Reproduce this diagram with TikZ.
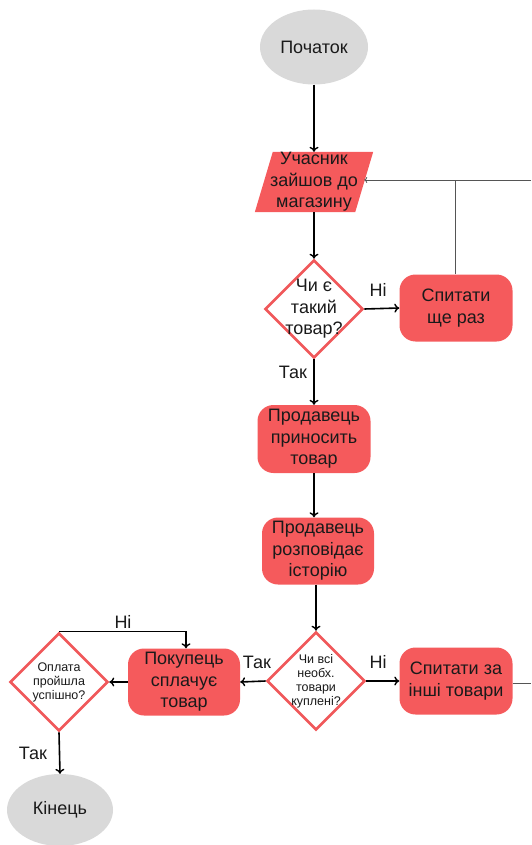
\documentclass[tikz,border=0pt]{standalone}
\usepackage{fontspec}
\setmainfont{Liberation Sans}
\usetikzlibrary{shapes.geometric,arrows.meta,backgrounds}
\definecolor{boxred}{HTML}{F55A5C}
\definecolor{edgered}{HTML}{F0585A}
\definecolor{termgray}{HTML}{D9D9D9}
\definecolor{txt}{HTML}{1A1A1A}
\definecolor{loopgray}{HTML}{555555}
\begin{document}
\begin{tikzpicture}[x=1pt,y=-1pt,
  every node/.style={font=\fontsize{18}{21.5}\selectfont, text=txt},
  term/.style={ellipse, fill=termgray, inner sep=0pt},
  proc/.style={rectangle, rounded corners=16pt, fill=boxred, minimum width=113pt, minimum height=67pt, align=center, inner sep=0pt},
  dec/.style={diamond, draw=edgered, line width=2.6pt, fill=white, minimum width=98pt, minimum height=98pt, inner sep=0pt},
  dectext/.style={align=center, inner sep=0pt},
  smalltext/.style={align=center, inner sep=0pt, font=\fontsize{12.5}{14}\selectfont},
  flow/.style={line width=1.6pt, -{To[length=5pt,width=9pt,line width=1.4pt]}},
  loop/.style={line width=0.8pt, draw=loopgray},
  loopar/.style={line width=0.8pt, draw=loopgray, -{To[length=3pt,width=6pt]}},
  lbl/.style={inner sep=0pt}
]
\useasboundingbox (0,0) rectangle (531,845);

% nodes
\node[term, minimum width=108pt, minimum height=75pt] (start) at (314,47) {Початок};
\node[rectangle, minimum width=100pt, minimum height=60pt, align=center, inner sep=0pt] (par) at (314,182) {Учасник\\зайшов до\\магазину};
\begin{scope}[on background layer]
  \fill[boxred] ([xshift=9pt]par.north west) -- ([xshift=9pt]par.north east) -- ([xshift=-9pt]par.south east) -- ([xshift=-9pt]par.south west) -- cycle;
\end{scope}

\node[dec] (d1) at (314,309) {};
\node[dectext] (d1t) at (d1.center) {Чи є\\такий\\товар?};

\node[proc] (b1) at (456,308) {Спитати\\ще раз};
\node[proc, minimum height=68pt] (b2) at (314,439) {Продавець\\приносить\\товар};
\node[proc, minimum width=112pt] (b3) at (318,551) {Продавець\\розповідає\\історію};

\node[dec] (d2) at (316,681) {};
\node[smalltext] (d2t) at (d2.center) {Чи всі\\необх.\\товари\\куплені?};

\node[proc] (b4) at (456,681) {Спитати за\\інші товари};
\node[proc, minimum width=112pt] (b5) at (184,682) {Покупець\\сплачує\\товар};

\node[dec] (d3) at (59,682) {};
\node[smalltext] (d3t) at (d3.center) {Оплата\\пройшла\\успішно?};

\node[term, minimum width=106pt, minimum height=72pt] (end) at (60,810) {Кінець};

% labels
\node[lbl] (l1) at (378,290) {Ні};
\node[lbl] (l2) at (293,372) {Так};
\node[lbl] (l3) at (378,662) {Ні};
\node[lbl] (l4) at (257,662) {Так};
\node[lbl] (l5) at (123,622) {Ні};
\node[lbl] (l6) at (33,753) {Так};

% loop coordinates at the right edge
\coordinate (topR) at (531,180);
\coordinate (botR) at (531,683);

% connectors
\draw[flow] (start.south) -- (par.north);
\draw[flow] (par.south) -- (d1.north);
\draw[flow] (d1.east) -- (b1.west);
\draw[flow] (d1.south) -- (b2.north);
\draw[flow] (b2.south) -- (b2.south |- b3.north);
\draw[flow] ([xshift=-2pt]b3.south) -- ([xshift=-2pt]b3.south |- d2.north);
\draw[flow] (d2.east) -- (b4.west);
\draw[flow] (d2.west) -- (b5.east);
\draw[flow] (b5.west) -- (d3.east);
\draw[flow, line width=1.2pt] (d3.north) -| ([xshift=2pt]b5.north);
\draw[flow] (d3.south) -- (end.north);

\draw[loopar] (topR) -- (par.east |- topR);
\draw[loop] ([xshift=-1pt]b1.north) -- ([xshift=-1pt]b1.north |- topR);
\draw[loop] (b4.east |- botR) -- (botR);
\end{tikzpicture}
\end{document}
